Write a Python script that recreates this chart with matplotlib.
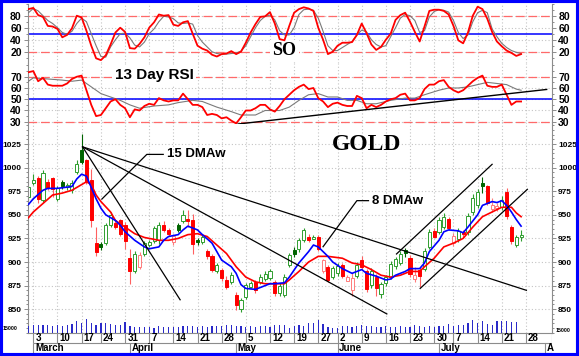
import numpy as np
import pandas as pd
import matplotlib
matplotlib.use("Agg")
import matplotlib.pyplot as plt
from matplotlib.patches import Rectangle
from matplotlib.ticker import MultipleLocator

# trading calendar, exchange closed on Good Friday, Memorial Day and July 4th
holidays = pd.to_datetime(["2008-03-21", "2008-05-26", "2008-07-04"])
calendar = pd.bdate_range("2008-02-29", "2008-08-01")
calendar = calendar[~calendar.isin(holidays)]

# daily gold candles, Feb 29 .. Jul 25 2008
opens = [969, 984, 989, 966, 985, 989, 967, 985, 979, 976,
         995, 1019, 1008, 987, 920, 919, 920, 939, 941, 944,
         939, 904, 890, 895, 909, 918, 922, 923, 939, 934,
         921, 939, 943, 946, 944, 923, 921, 912, 906, 891,
         892, 881, 879, 865, 850, 863, 874, 879, 879, 882,
         883, 879, 867, 865, 897, 913, 914, 923, 927, 924,
         927, 890, 895, 884, 888, 897, 880, 870, 885, 902,
         890, 876, 884, 866, 878, 884, 896, 899, 913, 904,
         882, 892, 893, 916, 933, 932, 937, 946, 920, 924,
         932, 932, 953, 960, 984, 980, 956, 957, 958, 974,
         937, 918, 926]
highs = [981, 993, 991, 998, 988, 990, 980, 987, 984, 987,
         1008, 1036, 1009, 999, 937, 921, 941, 953, 944, 946,
         942, 914, 912, 911, 922, 923, 938, 942, 943, 936,
         930, 941, 955, 955, 951, 925, 929, 914, 908, 899,
         894, 885, 889, 868, 862, 878, 880, 881, 887, 890,
         893, 881, 878, 887, 910, 916, 925, 936, 930, 929,
         929, 903, 897, 896, 899, 899, 886, 888, 900, 906,
         893, 894, 887, 879, 886, 901, 905, 912, 915, 907,
         895, 895, 915, 935, 936, 948, 952, 948, 931, 936,
         934, 952, 972, 977, 990, 982, 968, 963, 970, 978,
         939, 929, 934]
lows = [966, 982, 962, 964, 976, 969, 965, 977, 976, 973,
        993, 1004, 983, 937, 906, 913, 918, 937, 935, 928,
        914, 877, 888, 893, 906, 916, 920, 919, 932, 928,
        918, 932, 941, 937, 909, 918, 919, 903, 889, 888,
        880, 871, 877, 849, 847, 861, 872, 867, 877, 880,
        881, 864, 864, 863, 895, 905, 911, 921, 921, 924,
        912, 888, 879, 882, 885, 883, 880, 864, 883, 893,
        868, 872, 864, 862, 875, 882, 893, 897, 905, 884,
        879, 873, 890, 914, 925, 930, 935, 934, 917, 921,
        925, 929, 950, 957, 973, 960, 953, 954, 955, 946,
        919, 916, 922]
closes = [979, 987, 967, 994, 978, 977, 978, 980, 982, 984,
          1004, 1006, 985, 944, 911, 916, 939, 950, 937, 930,
          922, 890, 909, 907, 920, 921, 936, 939, 934, 930,
          928, 934, 950, 943, 919, 921, 926, 906, 892, 897,
          883, 874, 886, 854, 860, 876, 878, 870, 884, 887,
          891, 867, 875, 884, 907, 908, 923, 934, 923, 926,
          914, 902, 881, 894, 896, 885, 884, 883, 897, 895,
          871, 890, 872, 877, 884, 898, 903, 909, 910, 887,
          886, 885, 912, 932, 927, 944, 948, 936, 928, 933,
          930, 949, 968, 974, 980, 962, 960, 959, 966, 949,
          922, 926, 929]
volume = [7300, 8300, 7700, 8300, 7700, 6700, 7700, 7300, 8000, 9000,
          11700, 10000, 14300, 10000, 8300, 10000, 10000, 9300, 8300, 7700,
          10700, 6700, 6000, 6000, 6000, 6000, 5000, 6700, 6000, 6000,
          6000, 6000, 6700, 7300, 6700, 6000, 7300, 6000, 6700, 6700,
          7300, 8000, 8300, 6700, 6700, 6000, 6700, 6000, 6700, 6700,
          6000, 7700, 7700, 7700, 5000, 6700, 7700, 6700, 10000, 10000,
          13300, 9300, 6000, 5000, 5000, 6700, 6700, 6000, 6700, 8300,
          7300, 6700, 6000, 6000, 6700, 6000, 6000, 6700, 6000, 6000,
          7700, 6700, 6000, 6700, 6000, 6700, 7300, 9300, 7300, 8300,
          8300, 10000, 12700, 10000, 11700, 9300, 8300, 11700, 11700, 11700,
          11000, 11000, 0]

# weighted moving averages (trading-day position, value)
ma8_pos = [0, 1, 3, 4, 6, 9, 10, 11, 12, 14, 15, 16, 18, 19, 20, 22, 24, 25, 27,
           28, 29, 31, 32, 33, 35, 36, 38, 39, 40, 42, 43, 44, 45, 47, 49, 50, 51,
           53, 54, 56, 58, 59, 60, 62, 63, 65, 67, 69, 70, 72, 74, 75, 76, 78, 79,
           81, 82, 83, 85, 86, 87, 89, 90, 91, 93, 94, 96, 97, 98, 99, 100, 101, 102]
ma8_val = [961, 967, 976, 978, 978, 980, 988, 993, 991, 967, 957, 950, 944, 939,
           932, 923, 916, 914, 916, 923, 927, 929, 934, 938, 934, 929, 920, 911,
           902, 895, 888, 876, 872, 871, 875, 877, 877, 878, 884, 899, 911, 918,
           916, 906, 900, 893, 888, 892, 888, 885, 881, 882, 886, 890, 893, 893,
           899, 911, 923, 932, 934, 933, 931, 937, 950, 960, 964, 963, 965, 960,
           953, 945, 938]
ma15_pos = [0, 1, 3, 5, 7, 9, 11, 12, 13, 14, 15, 17, 18, 20, 22, 24, 27, 29, 31,
            33, 35, 37, 39, 41, 43, 45, 47, 49, 51, 53, 54, 56, 58, 60, 62, 65, 67,
            69, 71, 73, 75, 77, 79, 81, 82, 84, 86, 88, 90, 92, 94, 96, 98, 100,
            101, 102]
ma15_val = [947, 953, 962, 971, 973, 976, 982, 985, 982, 971, 964, 953, 944, 937,
            930, 926, 923, 923, 925, 929, 930, 927, 918, 909, 895, 884, 879, 877,
            877, 877, 881, 890, 900, 906, 906, 904, 899, 897, 892, 886, 884, 886,
            890, 890, 895, 904, 916, 920, 925, 937, 948, 953, 958, 958, 952, 948]

# slow stochastic (%K red, %D grey), one value per day
so_k = [91, 93, 81, 78, 63, 62, 58, 44, 48, 59,
        80, 77, 55, 30, 9, 6, 14, 32, 52, 60,
        53, 26, 25, 33, 44, 60, 69, 82, 80, 81,
        65, 63, 69, 71, 50, 30, 25, 22, 15, 12,
        16, 17, 21, 16, 20, 35, 52, 66, 78, 79,
        86, 67, 41, 39, 63, 85, 91, 94, 92, 88,
        60, 40, 16, 20, 30, 35, 35, 36, 48, 67,
        51, 32, 23, 28, 40, 50, 73, 81, 85, 70,
        53, 37, 62, 88, 90, 90, 88, 82, 63, 39,
        34, 52, 80, 95, 91, 75, 53, 37, 29, 22,
        18, 13, 16]
so_d = [85, 92, 88, 80, 72, 67, 60, 52, 49, 54,
        67, 76, 70, 50, 30, 12, 11, 28, 40, 50,
        51, 43, 31, 28, 36, 50, 58, 70, 79, 78,
        75, 68, 67, 68, 66, 47, 36, 28, 20, 17,
        16, 16, 17, 18, 21, 30, 45, 60, 72, 79,
        81, 73, 55, 48, 48, 60, 82, 90, 91, 89,
        76, 54, 30, 22, 22, 27, 32, 37, 48, 56,
        53, 40, 32, 28, 30, 45, 60, 76, 82, 80,
        72, 52, 55, 78, 87, 90, 89, 86, 72, 52,
        42, 48, 70, 85, 89, 85, 58, 45, 34, 27,
        22, 19, 17]

# 13 day RSI and its smoothed signal
rsi = [74, 75, 66, 69, 63, 62, 62, 62, 64, 68,
       70, 71, 58, 45, 35, 36, 42, 48, 50, 45,
       42, 34, 41, 40, 44, 46, 45, 51, 49, 48,
       49, 49, 55, 50, 45, 45, 43, 36, 37, 36,
       33, 34, 31, 28.5, 34, 40, 40, 42, 45, 45,
       41, 39, 44, 50, 54, 58, 61, 63, 59, 60,
       51, 48, 43, 46, 47, 45, 44, 44, 53, 51,
       42, 45, 43, 45, 48, 50, 51, 54, 55, 49,
       49, 51, 59, 63, 63, 66, 67, 61, 58, 56,
       58, 62, 66, 69, 71, 62, 61, 61, 63, 54,
       45, 48, 48]
rsi_sig_pos = [0, 1, 4, 7, 9, 11, 13, 15, 17, 19, 21, 23, 26, 29, 31, 34, 36, 39,
               42, 44, 47, 49, 52, 54, 56, 58, 60, 62, 64, 66, 68, 70, 72, 75, 78,
               80, 82, 85, 87, 89, 91, 93, 95, 97, 99, 101, 102]
rsi_sig_val = [66, 69, 68, 67, 66, 67, 61, 55, 52, 49, 45, 42, 44, 45, 47, 49, 48,
               43, 39, 36, 36, 40, 40, 43, 49, 54, 55, 52, 52, 49, 49, 46, 46, 49,
               51, 51, 54, 58, 60, 60, 61, 63, 65, 64, 63, 59, 58]

# hand drawn trend lines (day position, value)
fan_top = (11.2, 1022)
fan_ends = [(31.4, 860), (74.2, 845), (103.1, 870)]
channel_lines = [[(76.2, 908.5), (96.0, 1003.5)], [(81.1, 872), (103.3, 977)]]
rsi_trend = [(43.4, 28), (107.3, 58.7)]
note15 = [(15.2, 966.7), (24.5, 1014), (27.9, 1014)]
note8 = [(61.0, 916.2), (68.0, 965), (70.4, 965)]

plt.rcParams['font.family'] = ['Liberation Sans', 'DejaVu Sans']
plt.rcParams['font.weight'] = 'bold'

W, H = 579, 356
fig = plt.figure(figsize=(W / 100, H / 100), dpi=100)
fig.patch.set_facecolor('white')


def box(top, bottom):
    return [28 / W, 1 - bottom / H, 524 / W, (bottom - top) / H]


ax_so = fig.add_axes(box(3.7, 63))
ax_rsi = fig.add_axes(box(63, 124), sharex=ax_so)
ax_p = fig.add_axes(box(124, 333), sharex=ax_so)
ax_v = fig.add_axes(box(317, 333), sharex=ax_so)
ax_d = fig.add_axes(box(333, 353), sharex=ax_so)

x = np.arange(len(closes))
xmax = 108.4

week_pos, week_lab, month_pos, month_lab = [], [], [], []
for k in range(1, len(calendar)):
    d, prev = calendar[k], calendar[k - 1]
    if d.isocalendar()[1] != prev.isocalendar()[1] and k <= 104:
        week_pos.append(k)
        week_lab.append(str(d.day))
    if d.month != prev.month:
        month_pos.append(k)
        month_lab.append(d.strftime('%B') if k < 104 else d.strftime('%B')[0])

grid_c = '#c4c4c4'
spine_c = '#8c8c8c'
for ax in (ax_so, ax_rsi, ax_p):
    ax.set_xlim(-0.1, xmax)
    ax.set_xticks(week_pos)
    ax.grid(True, ls=(0, (1, 2)), color=grid_c, lw=0.8)
    ax.set_axisbelow(True)
    for s in ('top', 'bottom'):
        ax.spines[s].set_visible(False)
    for s in ('left', 'right'):
        ax.spines[s].set_color(spine_c)
        ax.spines[s].set_linewidth(0.8)
    ax.tick_params(axis='x', bottom=False, labelbottom=False)
    ax.tick_params(axis='y', which='both', left=True, right=True, labelleft=True,
                   labelright=True, direction='out', color=spine_c, width=0.7)
    ax.tick_params(axis='y', which='major', length=3, pad=1.5)
    ax.tick_params(axis='y', which='minor', length=1.5)

# stochastic panel
ax_so.set_ylim(1.2, 100)
ax_so.set_yticks([20, 40, 60, 80])
ax_so.yaxis.set_minor_locator(MultipleLocator(10))
ax_so.tick_params(axis='y', labelsize=7.5)
for lvl in (80, 20):
    ax_so.axhline(lvl, color='#ff6a6a', lw=0.9, ls=(0, (7, 3)), zorder=1.5)
ax_so.axhline(50, color='#0000ff', lw=1.1, zorder=1.6)
ax_so.plot(x, so_d, color='#7a7a7a', lw=0.8, zorder=3)
ax_so.plot(x, so_k, color='#ff0000', lw=1.3, zorder=4)
ax_so.text(53, 22.5, 'SO', family='Liberation Serif', fontsize=13, fontweight='bold',
           ha='center', va='center', zorder=2,
           bbox=dict(facecolor='white', edgecolor='none', pad=1.5))

# RSI panel
ax_rsi.set_ylim(28, 82.2)
ax_rsi.set_yticks([30, 40, 50, 60, 70])
ax_rsi.yaxis.set_minor_locator(MultipleLocator(5))
ax_rsi.tick_params(axis='y', labelsize=7.5)
for lvl in (70, 30):
    ax_rsi.axhline(lvl, color='#ff6a6a', lw=0.9, ls=(0, (7, 3)), zorder=1.5)
ax_rsi.axhline(50, color='#0000ff', lw=1.1, zorder=1.6)
ax_rsi.plot(rsi_sig_pos, rsi_sig_val, color='#7a7a7a', lw=0.8, zorder=3)
ax_rsi.plot(x, rsi, color='#ff0000', lw=1.3, zorder=4)
ax_rsi.plot([p[0] for p in rsi_trend], [p[1] for p in rsi_trend], color='black',
            lw=1.0, zorder=5)
ax_rsi.text(26, 71.5, '13 Day RSI', fontsize=11, fontweight='bold', ha='center',
            va='center', zorder=2, bbox=dict(facecolor='white', edgecolor='none', pad=2))

# price panel
ax_p.set_ylim(824.8, 1046.2)
ax_p.set_yticks(np.arange(850, 1026, 25))
ax_p.yaxis.set_minor_locator(MultipleLocator(5))
ax_p.tick_params(axis='y', labelsize=6)
ax_p.spines['bottom'].set_visible(True)
ax_p.spines['bottom'].set_color(spine_c)

o = np.array(opens, float)
c = np.array(closes, float)
prev_c = np.concatenate([[o[0]], c[:-1]])
face, edge = [], []
for oo, cc, pc in zip(o, c, prev_c):
    up = cc >= pc
    filled = cc < oo
    if up and not filled:
        face.append('white'); edge.append('#2f9e2f')
    elif up:
        face.append('#006400'); edge.append('#006400')
    elif filled:
        face.append('#ff0000'); edge.append('#ff0000')
    else:
        face.append('white'); edge.append('#ff7c7c')
wick = ['#ff6060' if f == '#ff0000' else e for f, e in zip(face, edge)]
ax_p.vlines(x, lows, highs, colors=wick, lw=0.8, zorder=2)
ax_p.bar(x, np.maximum(np.abs(c - o), 0.8), bottom=np.minimum(o, c), width=0.64,
         color=face, edgecolor=edge, lw=0.7, zorder=2.5)

ax_p.plot(ma15_pos, ma15_val, color='#ff0000', lw=1.2, zorder=3)
ax_p.plot(ma8_pos, ma8_val, color='#0000ff', lw=1.2, zorder=3.1)

for end in fan_ends:
    ax_p.plot([fan_top[0], end[0]], [fan_top[1], end[1]], color='black', lw=0.9, zorder=4)
for line in channel_lines:
    ax_p.plot([p[0] for p in line], [p[1] for p in line], color='black', lw=0.9, zorder=4)
for note, label in ((note15, '15 DMAw'), (note8, '8 DMAw')):
    ax_p.plot([p[0] for p in note], [p[1] for p in note], color='black', lw=0.9, zorder=4)
    ax_p.text(note[-1][0] + 0.8, note[-1][1], label, fontsize=9.5, fontweight='bold',
              ha='left', va='center', zorder=5)
ax_p.text(70, 1024, 'GOLD', family='Liberation Serif', fontsize=17, fontweight='bold',
          ha='center', va='center', zorder=5)

# volume strip
ax_v.set_ylim(0, 16000)
ax_v.patch.set_visible(False)
ax_v.axis('off')
ax_v.bar(x, volume, width=0.25, color='#2a2ac8', zorder=2)
fig.text(3 / W, 1 - 329 / H, '15000', fontsize=3.8, va='center', ha='left')
fig.text(556 / W, 1 - 330 / H, '15000', fontsize=3.8, va='center', ha='left')

# date rows
ax_d.set_ylim(0, 2)
ax_d.axis('off')
ax_d.hlines([0.05, 1], week_pos[0], xmax, color=spine_c, lw=0.8)
ax_d.vlines(week_pos, 1, 2, color=spine_c, lw=0.8)
ax_d.vlines(month_pos, 0.05, 1, color=spine_c, lw=0.8)
ax_d.vlines([xmax], 0.05, 2, color=spine_c, lw=0.8)
for p, lab in zip(week_pos, week_lab):
    ax_d.text(p + 0.45, 1.5, lab, fontsize=7, fontweight='bold', ha='left', va='center')
for p, lab in zip(month_pos, month_lab):
    ax_d.text(p + 0.35, 0.5, lab, fontsize=7, fontweight='bold', ha='left', va='center')

fig.add_artist(Rectangle((0, 0), 1, 1, transform=fig.transFigure, fill=False,
                         edgecolor='#0000ff', lw=4.4))

fig.savefig('out.png', dpi=100)
